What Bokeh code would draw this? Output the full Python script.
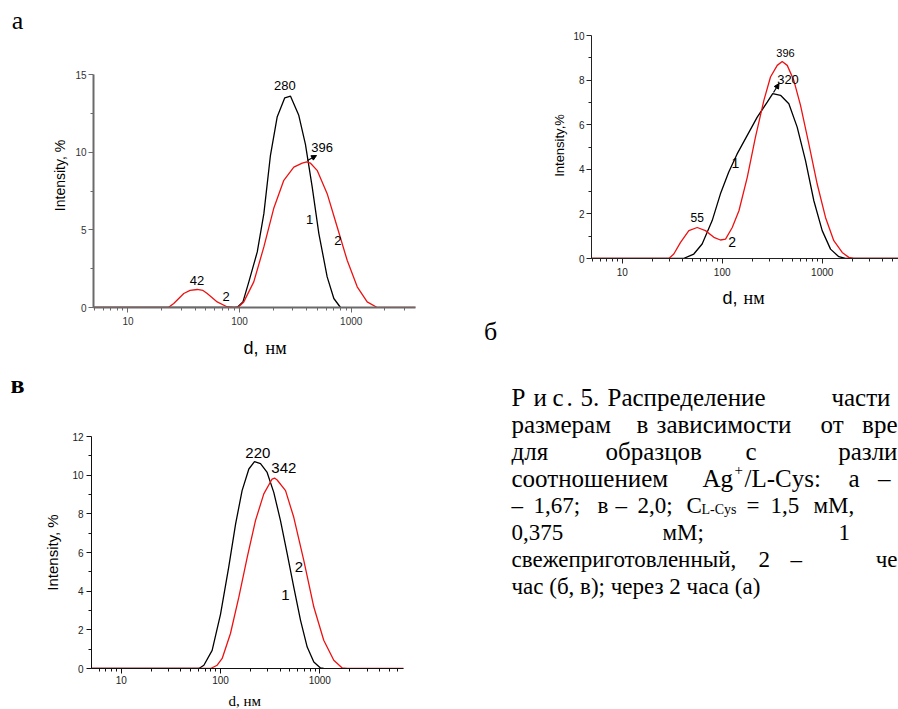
import math
from bokeh.plotting import figure
from bokeh.models import Range1d, FixedTicker, BasicTickFormatter, Label, Arrow, NormalHead
from bokeh.layouts import column, row
from bokeh.embed import file_html
from bokeh.resources import INLINE

# ---------------- data (d in nm, intensity in %) ----------------
# panel a (after 2 h)
a_d1 = [4, 95, 107, 121, 144, 165, 189, 217, 254, 286, 339, 389, 447, 513, 609, 699, 802]
a_i1 = [0, 0, 0.35, 1.65, 3.58, 6.04, 9.8, 12.26, 13.5, 13.6, 12.37, 10.5, 7.76, 4.76, 1.97, 0.58, 0]
a_d2 = [4, 23, 25.7, 31.6, 36, 41.7, 47, 51.3, 63, 77, 90, 98, 109, 134, 165, 202, 249, 306, 364,
        400, 430, 495, 609, 749, 920, 1132, 1390, 1710, 10000]
a_i2 = [0, 0, 0.26, 0.9, 1.1, 1.16, 1.1, 0.9, 0.36, 0.05, 0, 0.05, 0.36, 1.65, 3.9, 6.37, 8.19, 9.04, 9.3,
        9.38, 9.3, 8.83, 7.33, 5.18, 3.04, 1.33, 0.36, 0, 0]
# panel b
b_d1 = [4, 41, 52, 63, 79.4, 96, 116, 141, 178, 224, 282, 320, 383, 464, 562, 681, 825, 1000, 1211, 1466, 1710, 10000]
b_i1 = [0, 0, 0.2, 0.65, 1.7, 2.9, 3.87, 4.69, 5.52, 6.34, 7.01, 7.39, 7.32, 6.94, 5.89, 4.39, 2.59, 1.25, 0.42, 0.08, 0, 0]
b_d2 = [4, 29.3, 32.8, 38.3, 46.4, 56.2, 68, 82.5, 96, 108, 126, 147, 178, 215, 261, 304, 355, 398, 447,
        520, 607, 735, 891, 1079, 1306, 1585, 1845, 2070, 10000]
b_i2 = [0, 0, 0.2, 0.72, 1.25, 1.39, 1.25, 0.95, 0.83, 0.87, 1.39, 2.14, 3.64, 5.44, 7.09, 8.14, 8.66, 8.83, 8.66,
        7.99, 6.87, 5.14, 3.34, 1.84, 0.8, 0.27, 0.05, 0, 0]
# panel c
c_d1 = [4, 60.6, 68, 82.4, 100, 121, 142, 165, 193, 220, 253, 295, 344, 402, 470, 547, 640, 747, 871, 1016, 1096]
c_i1 = [0, 0, 0.17, 0.94, 2.8, 5.24, 7.48, 9.2, 10.32, 10.7, 10.6, 10.14, 9.11, 7.65, 5.93, 4.21, 2.49, 1.11, 0.34, 0.03, 0]
c_d2 = [4, 79.4, 92.6, 104, 126, 153, 186, 225, 273, 331, 350, 372, 452, 547, 690, 871, 1096, 1384, 1683, 1888, 10000]
c_i2 = [0, 0, 0.17, 0.52, 1.81, 3.69, 5.76, 7.65, 9.03, 9.8, 9.85, 9.75, 9.2, 7.82, 5.59, 3.18, 1.46, 0.43, 0.03, 0, 0]

x_major = [10, 100, 1000]
x_minor = [m * 10 ** e for e in range(0, 4) for m in range(2, 10)]
a_yticks, a_yminor = [0, 5, 10, 15], [2.5, 7.5, 12.5]
b_yticks, b_yminor = [0, 2, 4, 6, 8, 10], [1, 3, 5, 7, 9]
c_yticks, c_yminor = [0, 2, 4, 6, 8, 10, 12], [1, 3, 5, 7, 9, 11]

SANS = "Liberation Sans"
SERIF = "Liberation Serif"
RED = "#ee1111"


def no_align(p):
    try:
        p.frame_align = False
    except Exception:
        pass


def make_panel(w, h, borders, frame_box, xr, yr, yt, ym, axis_color, axis_w, lab_color, xstand, ystand):
    l, r, t, b = borders
    p = figure(width=w, height=h, x_axis_type="log", x_range=Range1d(*xr), y_range=Range1d(*yr),
               output_backend="svg", toolbar_location=None, title=None,
               min_border_left=l, min_border_right=r, min_border_top=t, min_border_bottom=b)
    no_align(p)
    p.grid.visible = False
    p.outline_line_color = None
    for ax in (p.xaxis[0], p.yaxis[0]):
        ax.axis_line_color = axis_color
        ax.axis_line_width = axis_w
        ax.major_tick_line_color = axis_color
        ax.minor_tick_line_color = axis_color
        ax.major_tick_out = 5
        ax.major_tick_in = 0
        ax.minor_tick_out = 3
        ax.minor_tick_in = 0
        ax.major_label_text_font = SANS
        ax.major_label_text_font_size = "10px"
        ax.major_label_text_color = lab_color
    p.xaxis[0].ticker = FixedTicker(ticks=x_major, minor_ticks=x_minor)
    p.xaxis[0].formatter = BasicTickFormatter(use_scientific=False)
    p.xaxis[0].major_label_standoff = xstand
    p.yaxis[0].ticker = FixedTicker(ticks=yt, minor_ticks=ym)
    p.yaxis[0].major_label_standoff = ystand
    fl, fr, ft, fb = frame_box
    lx0, lx1 = math.log10(xr[0]), math.log10(xr[1])

    def conv(px, py):
        x = 10 ** (lx0 + (px - fl) / (fr - fl) * (lx1 - lx0))
        y = yr[0] + (fb - py) / (fb - ft) * (yr[1] - yr[0])
        return x, y
    return p, conv


def text_fig(x0, y0, w, h):
    p = figure(width=w, height=h, x_range=Range1d(x0, x0 + w), y_range=Range1d(y0 + h, y0),
               output_backend="svg", toolbar_location=None, title=None,
               x_axis_location=None, y_axis_location=None,
               min_border_left=0, min_border_right=0, min_border_top=0, min_border_bottom=0)
    no_align(p)
    p.grid.visible = False
    p.outline_line_color = None
    return p


def ident(px, py):
    return px, py


def lab(p, conv, px, py, text, size, font=SANS, align="center", baseline="middle", angle=0.0, style="normal"):
    x, y = conv(px, py)
    p.add_layout(Label(x=x, y=y, text=text, text_font=font, text_font_size=f"{size}px",
                       text_align=align, text_baseline=baseline, angle=angle,
                       text_color="black", text_font_style=style))


def arrow(p, conv, p0, p1):
    x0, y0 = conv(*p0)
    x1, y1 = conv(*p1)
    p.add_layout(Arrow(x_start=x0, y_start=y0, x_end=x1, y_end=y1, line_width=1.2, line_color="black",
                       end=NormalHead(size=5, fill_color="black", line_color="black")))


# ================= left column =================
ta = text_fig(0, 0, 449, 44)
lab(ta, ident, 17, 20, "а", 26, font=SERIF)

tya = text_fig(0, 44, 70, 288)
lab(tya, ident, 59.5, 175, "Intensity, %", 14, angle=math.pi / 2)

pa, ca = make_panel(379, 288, (23, 34, 30, 25), (93, 415, 74, 307), (4.91, 3767), (0, 15),
                    a_yticks, a_yminor, "#6a6a6a", 2, "#333333", 4, 2)
pa.line(a_d1, a_i1, line_color="black", line_width=1.3)
pa.line(a_d2, a_i2, line_color=RED, line_width=1.3)
lab(pa, ca, 284.3, 85, "280", 13)
lab(pa, ca, 321.7, 147, "396", 13)
arrow(pa, ca, (307, 160), (316, 155))
lab(pa, ca, 309, 219.3, "1", 13)
lab(pa, ca, 337.3, 239.5, "2", 13)
lab(pa, ca, 196.5, 279.5, "42", 13)
lab(pa, ca, 225.7, 295.5, "2", 13)

txa = text_fig(0, 332, 449, 28)
lab(txa, ident, 243, 347, "d,", 18, align="left", baseline="alphabetic")
lab(txa, ident, 265, 347, "нм", 18, font=SERIF, align="left", baseline="alphabetic")

tc = text_fig(0, 360, 449, 44)
lab(tc, ident, 17, 384, "в", 26, font=SERIF, style="bold")

tyc = text_fig(0, 404, 66, 282)
lab(tyc, ident, 51.7, 552, "Intensity, %", 15, angle=math.pi / 2)

pc, cc = make_panel(383, 282, (25, 46, 32, 18), (91, 403, 436, 668), (5.02, 6970), (0, 12),
                    c_yticks, c_yminor, "#111111", 1, "#222222", 2, 3)
pc.line(c_d1, c_i1, line_color="black", line_width=1.3)
pc.line(c_d2, c_i2, line_color=RED, line_width=1.3)
lab(pc, cc, 257.3, 452.7, "220", 15)
lab(pc, cc, 283.3, 467.7, "342", 15)
lab(pc, cc, 298.3, 566.7, "2", 15)
lab(pc, cc, 285, 594.3, "1", 15)

txc = text_fig(0, 686, 449, 22)
lab(txc, ident, 228, 700, "d, нм", 15, font=SERIF, align="left", baseline="alphabetic")

left = column(ta, row(tya, pa), txa, tc, row(tyc, pc), txc)

# ================= right column =================
tyb = text_fig(449, 0, 120, 280)
lab(tyb, ident, 559.3, 145, "Intensity,%", 13, angle=math.pi / 2)

pb, cb = make_panel(329, 280, (22, 0, 35, 22), (591, 898, 35, 258), (4.93, 5794), (0, 10),
                    b_yticks, b_yminor, "#222222", 1, "#222222", 4, 2)
pb.line(b_d1, b_i1, line_color="black", line_width=1.3)
pb.line(b_d2, b_i2, line_color=RED, line_width=1.3)
lab(pb, cb, 785, 52.5, "396", 11)
lab(pb, cb, 787.5, 79, "320", 13)
arrow(pb, cb, (773, 92), (778.5, 83))
lab(pb, cb, 735, 162, "1", 14)
lab(pb, cb, 731.7, 241, "2", 14)
lab(pb, cb, 696.7, 217.3, "55", 12)

txb = text_fig(449, 280, 449, 35)
lab(txb, ident, 722, 297, "d,", 18, align="left", baseline="alphabetic")
lab(txb, ident, 743, 297, "нм", 18, font=SERIF, align="left", baseline="alphabetic")

pt = text_fig(449, 315, 449, 393)
lab(pt, ident, 490, 331, "б", 26, font=SERIF)

# caption (justified paragraph, cut at the right edge as in the source)
B, S = 25, 23
caption = [
    (511, 397, "Р", B, "left"), (533, 397, "и", B, "left"), (552, 397, "с", B, "left"), (566, 397, ".", B, "left"),
    (580, 397, "5.", B, "left"), (607, 397, "Распределение", B, "left"), (890, 397, "части", B, "right"),
    (511, 424, "размерам", B, "left"), (636, 424, "в", B, "left"), (656, 424, "зависимости", B, "left"),
    (820, 424, "от", B, "left"), (897, 424, "вре", B, "right"),
    (511, 451, "для", B, "left"), (605, 451, "образцов", B, "left"), (745, 451, "с", B, "left"),
    (897, 451, "разли", B, "right"),
    (511, 478, "соотношением", B, "left"), (702, 478, "Ag", B, "left"), (734, 469, "+", 15, "left"),
    (744, 478, "/L-Cys:", B, "left"), (848, 478, "а", B, "left"), (890, 478, "–", B, "right"),
    (511, 505, "–", S, "left"), (533, 505, "1,67;", S, "left"), (597, 505, "в", S, "left"),
    (615, 505, "–", S, "left"), (637, 505, "2,0;", S, "left"), (686, 505, "C", S, "left"),
    (701, 509, "L-Cys", 14, "left"), (746, 505, "=", S, "left"), (770, 505, "1,5", S, "left"),
    (813, 505, "мМ,", S, "left"),
    (511, 532, "0,375", S, "left"), (662, 532, "мМ;", S, "left"), (838, 532, "1", S, "left"),
    (511, 559, "свежеприготовленный,", S, "left"), (758, 559, "2", S, "left"), (790, 559, "–", S, "left"),
    (897, 559, "че", S, "right"),
    (511, 586, "час (б, в); через 2 часа (а)", S, "left"),
]
for x, y, t, s, al in caption:
    pt.add_layout(Label(x=x, y=y, text=t, text_font=SERIF, text_font_size=f"{s}px",
                        text_align=al, text_baseline="alphabetic", text_color="black"))

right = column(row(tyb, pb), txb, pt)

layout = row(left, right)
open("out.html", "w").write(file_html(layout, INLINE))
